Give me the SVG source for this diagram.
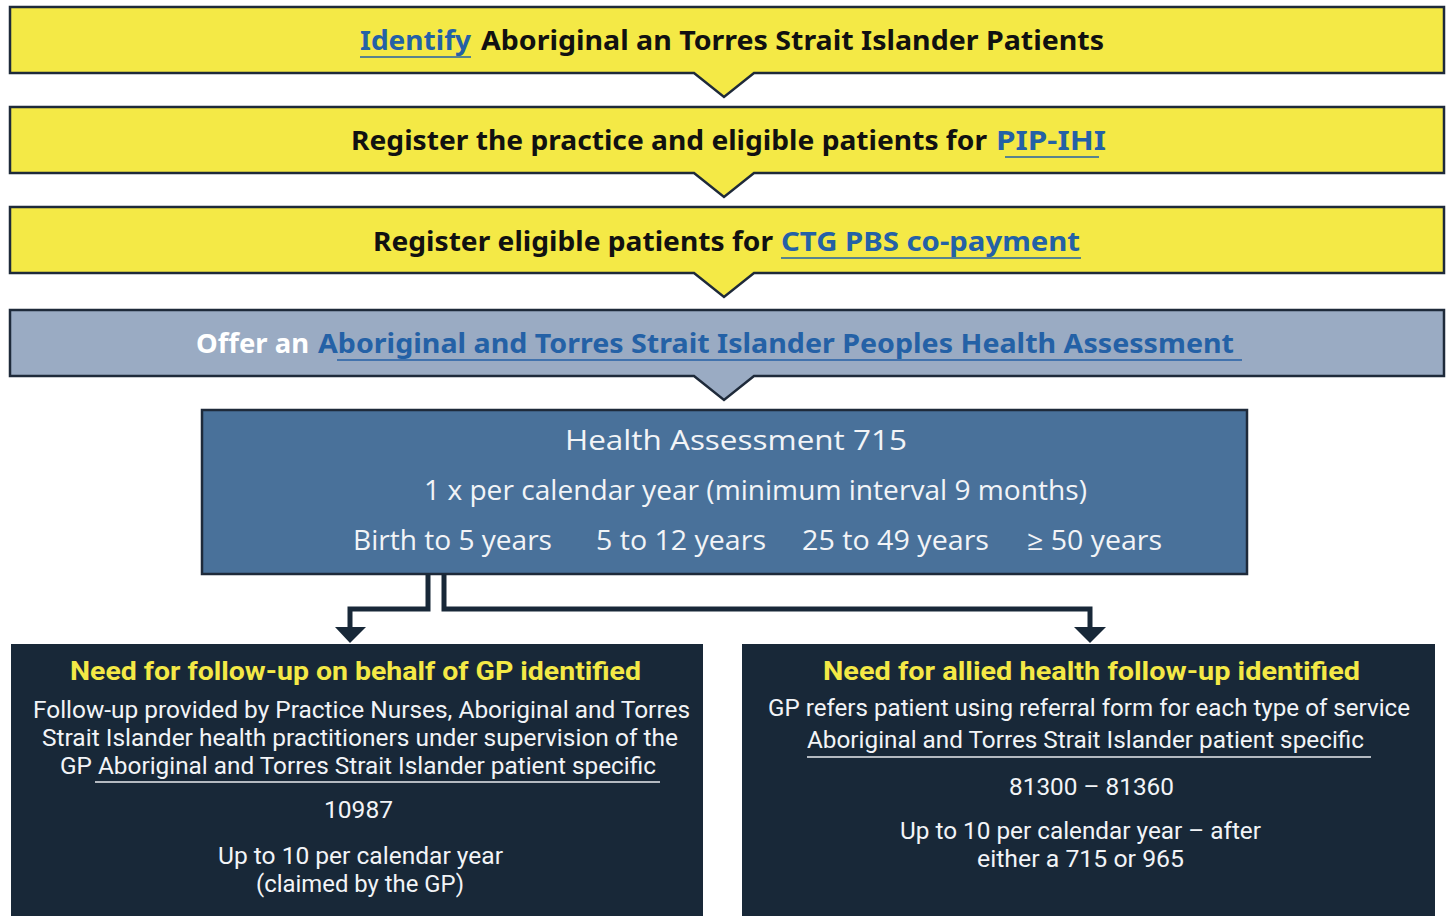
<svg xmlns="http://www.w3.org/2000/svg" width="1449" height="916" viewBox="0 0 1449 916">
<style>
.ban{stroke:#1e2a3a;stroke-width:2.5}
.y{fill:#f4e946}
.b{font-family:"Noto Sans","Open Sans",sans-serif;font-weight:bold;font-size:27px}
.blk{fill:#111}
.lnk{fill:#2461a6}
.ul{stroke:#2461a6;stroke-width:1.6}
.ha{font-family:"Open Sans","Noto Sans",sans-serif;font-size:27px;fill:#f2f4f7}
.tt{font-family:"Roboto","Noto Sans",sans-serif;font-weight:bold;font-size:25px;fill:#f4e946}
.bd{font-family:"Roboto","Noto Sans",sans-serif;font-size:23px;fill:#f2f4f7}
.wul{stroke:#e8ebef;stroke-width:1.5}
.con{fill:none;stroke:#182838;stroke-width:5}
</style>
<rect width="1449" height="916" fill="#ffffff"/>
<g id="n1">
<path class="ban y" d="M10,7 H1444 V73 H754 L724,97 L694,73 H10 Z"/>
<text class="b lnk" x="360" y="50" textLength="111" lengthAdjust="spacingAndGlyphs">Identify</text>
<line class="ul" x1="360" y1="57" x2="471" y2="57"/>
<text class="b blk" x="481" y="50" textLength="623" lengthAdjust="spacingAndGlyphs">Aboriginal an Torres Strait Islander Patients</text>
</g>
<g id="n2">
<path class="ban y" d="M10,107 H1444 V173 H754 L724,197 L694,173 H10 Z"/>
<text class="b blk" x="351" y="150" textLength="636" lengthAdjust="spacingAndGlyphs">Register the practice and eligible patients for</text>
<text class="b lnk" x="996" y="150" textLength="110" lengthAdjust="spacingAndGlyphs">PIP-IHI</text>
<line class="ul" x1="1005" y1="157" x2="1099" y2="157"/>
</g>
<g id="n3">
<path class="ban y" d="M10,207 H1444 V273 H754 L724,297 L694,273 H10 Z"/>
<text class="b blk" x="373" y="251" textLength="400" lengthAdjust="spacingAndGlyphs">Register eligible patients for</text>
<text class="b lnk" x="781" y="251" textLength="299" lengthAdjust="spacingAndGlyphs">CTG PBS co-payment</text>
<line class="ul" x1="781" y1="258" x2="1081" y2="258"/>
</g>
<g id="n4">
<path class="ban" fill="#9aabc3" d="M10,310 H1444 V376 H754 L724,400 L694,376 H10 Z"/>
<text class="b" fill="#ffffff" x="196" y="353" textLength="113" lengthAdjust="spacingAndGlyphs">Offer an</text>
<text class="b lnk" x="318" y="353" textLength="916" lengthAdjust="spacingAndGlyphs">Aboriginal and Torres Strait Islander Peoples Health Assessment</text>
<line class="ul" x1="337" y1="360" x2="1242" y2="360"/>
</g>
<g id="n5">
<rect x="202" y="410" width="1045" height="164" fill="#49719a" stroke="#1e2a3a" stroke-width="2.5"/>
<text class="ha" x="565" y="450" textLength="342" lengthAdjust="spacingAndGlyphs">Health Assessment 715</text>
<text class="ha" x="424" y="500" textLength="663" lengthAdjust="spacingAndGlyphs">1 x per calendar year (minimum interval 9 months)</text>
<text class="ha" x="353" y="550" textLength="199" lengthAdjust="spacingAndGlyphs">Birth to 5 years</text>
<text class="ha" x="596" y="550" textLength="170" lengthAdjust="spacingAndGlyphs">5 to 12 years</text>
<text class="ha" x="802" y="550" textLength="187" lengthAdjust="spacingAndGlyphs">25 to 49 years</text>
<text class="ha" x="1027" y="550" textLength="135" lengthAdjust="spacingAndGlyphs">≥ 50 years</text>
</g>
<g id="connectors">
<path class="con" d="M428,574 V609 H350 V630"/>
<polygon points="335,627 366,627 350,643" fill="#182838"/>
<path class="con" d="M444,574 V609 H1090 V630"/>
<polygon points="1074,627 1106,627 1090,643" fill="#182838"/>
</g>
<g id="n6">
<rect x="11" y="644" width="692" height="280" fill="#182838"/>
<text class="tt" x="70" y="680" textLength="571" lengthAdjust="spacingAndGlyphs">Need for follow-up on behalf of GP identified</text>
<text class="bd" x="33" y="718" textLength="657" lengthAdjust="spacingAndGlyphs">Follow-up provided by Practice Nurses, Aboriginal and Torres</text>
<text class="bd" x="42" y="746" textLength="636" lengthAdjust="spacingAndGlyphs">Strait Islander health practitioners under supervision of the</text>
<text class="bd" x="60" y="774" textLength="596" lengthAdjust="spacingAndGlyphs">GP Aboriginal and Torres Strait Islander patient specific</text>
<line class="wul" x1="95" y1="782" x2="660" y2="782"/>
<text class="bd" x="324" y="818" textLength="69" lengthAdjust="spacingAndGlyphs">10987</text>
<text class="bd" x="218" y="864" textLength="285" lengthAdjust="spacingAndGlyphs">Up to 10 per calendar year</text>
<text class="bd" x="256" y="892" textLength="208" lengthAdjust="spacingAndGlyphs">(claimed by the GP)</text>
</g>
<g id="n7">
<rect x="742" y="644" width="693" height="280" fill="#182838"/>
<text class="tt" x="823" y="680" textLength="537" lengthAdjust="spacingAndGlyphs">Need for allied health follow-up identified</text>
<text class="bd" x="768" y="716" textLength="642" lengthAdjust="spacingAndGlyphs">GP refers patient using referral form for each type of service</text>
<text class="bd" x="807" y="748" textLength="557" lengthAdjust="spacingAndGlyphs">Aboriginal and Torres Strait Islander patient specific</text>
<line class="wul" x1="807" y1="757" x2="1371" y2="757"/>
<text class="bd" x="1009" y="795" textLength="165" lengthAdjust="spacingAndGlyphs">81300 – 81360</text>
<text class="bd" x="900" y="839" textLength="361" lengthAdjust="spacingAndGlyphs">Up to 10 per calendar year – after</text>
<text class="bd" x="977" y="867" textLength="207" lengthAdjust="spacingAndGlyphs">either a 715 or 965</text>
</g>
</svg>
